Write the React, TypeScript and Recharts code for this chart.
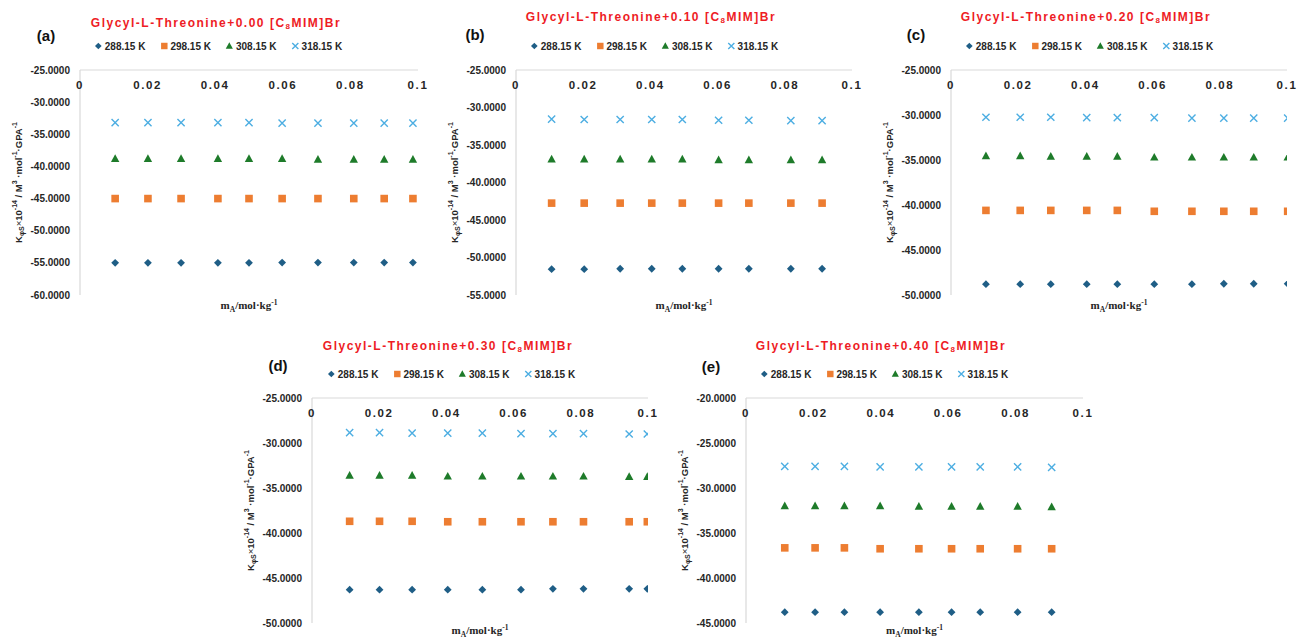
import React from 'react';
import { ScatterChart, Scatter, XAxis, YAxis } from 'recharts';

// ---------- data ----------
const temps = ['288.15 K', '298.15 K', '308.15 K', '318.15 K'];
const colors = ['#1F5E86', '#ED7D31', '#1E7B2A', '#4DAEE2'];
const shapes = ['diamond', 'square', 'triangle', 'x'];
const ilConcs = ['0.00', '0.10', '0.20', '0.30', '0.40'];
const panelLetters = ['(a)', '(b)', '(c)', '(d)', '(e)'];
const xTicks = [0, 0.02, 0.04, 0.06, 0.08, 0.1];
const xTickLabels = ['0', '0.02', '0.04', '0.06', '0.08', '0.1'];

// (a) 0.00
const xA = [0.0104, 0.0201, 0.0299, 0.0408, 0.05, 0.0598, 0.0704, 0.081, 0.09, 0.0985];
const a288 = [-55.0, -55.0, -55.0, -55.0, -55.0, -54.95, -54.95, -54.95, -54.95, -54.95];
const a298 = [-45.0, -45.0, -45.0, -45.0, -45.0, -45.0, -45.0, -45.0, -45.0, -45.0];
const a308 = [-38.8, -38.8, -38.8, -38.8, -38.8, -38.8, -38.9, -38.9, -38.9, -38.9];
const a318 = [-33.2, -33.2, -33.2, -33.2, -33.2, -33.25, -33.25, -33.25, -33.25, -33.25];
const yTicksA = [-60, -55, -50, -45, -40, -35, -30, -25];

// (b) 0.10
const xB = [0.0106, 0.0203, 0.031, 0.0404, 0.0495, 0.0603, 0.0693, 0.0818, 0.0911];
const b288 = [-51.55, -51.55, -51.5, -51.5, -51.5, -51.5, -51.5, -51.5, -51.5];
const b298 = [-42.75, -42.75, -42.75, -42.75, -42.75, -42.75, -42.75, -42.75, -42.75];
const b308 = [-36.9, -36.9, -36.9, -36.9, -36.9, -37.0, -37.0, -37.0, -37.0];
const b318 = [-31.55, -31.6, -31.6, -31.6, -31.6, -31.7, -31.7, -31.75, -31.75];
const yTicksB = [-55, -50, -45, -40, -35, -30, -25];

// (c) 0.20
const xC = [0.0104, 0.0206, 0.0297, 0.0404, 0.0495, 0.0605, 0.0717, 0.0812, 0.0901, 0.1002];
const c288 = [-48.8, -48.8, -48.8, -48.8, -48.8, -48.8, -48.8, -48.75, -48.75, -48.75];
const c298 = [-40.6, -40.6, -40.6, -40.6, -40.6, -40.7, -40.7, -40.7, -40.7, -40.7];
const c308 = [-34.55, -34.55, -34.6, -34.6, -34.6, -34.7, -34.7, -34.7, -34.7, -34.7];
const c318 = [-30.25, -30.25, -30.25, -30.3, -30.3, -30.3, -30.35, -30.35, -30.35, -30.35];
const yTicksC = [-50, -45, -40, -35, -30, -25];

// (d) 0.30
const xD = [0.0112, 0.0201, 0.0298, 0.0404, 0.0507, 0.0622, 0.0717, 0.0808, 0.0944, 0.0998];
const d288 = [-46.3, -46.3, -46.3, -46.3, -46.3, -46.3, -46.2, -46.2, -46.2, -46.2];
const d298 = [-38.7, -38.7, -38.7, -38.75, -38.75, -38.75, -38.75, -38.75, -38.75, -38.75];
const d308 = [-33.6, -33.6, -33.6, -33.7, -33.7, -33.7, -33.7, -33.7, -33.75, -33.75];
const d318 = [-28.85, -28.85, -28.9, -28.9, -28.9, -28.95, -28.95, -28.95, -29.0, -29.0];
const yTicksD = [-50, -45, -40, -35, -30, -25];

// (e) 0.40
const xE = [0.0115, 0.0205, 0.0292, 0.0398, 0.0513, 0.061, 0.0695, 0.0806, 0.0907];
const e288 = [-43.8, -43.8, -43.8, -43.8, -43.8, -43.8, -43.8, -43.8, -43.8];
const e298 = [-36.65, -36.65, -36.65, -36.75, -36.75, -36.75, -36.75, -36.75, -36.75];
const e308 = [-32.0, -32.0, -32.0, -32.0, -32.05, -32.05, -32.05, -32.05, -32.1];
const e318 = [-27.6, -27.6, -27.6, -27.65, -27.65, -27.65, -27.65, -27.65, -27.7];
const yTicksE = [-45, -40, -35, -30, -25, -20];

const panelX = [xA, xB, xC, xD, xE];
const panelY = [
  [a288, a298, a308, a318],
  [b288, b298, b308, b318],
  [c288, c298, c308, c318],
  [d288, d298, d308, d318],
  [e288, e298, e308, e318],
];
const panelYTicks = [yTicksA, yTicksB, yTicksC, yTicksD, yTicksE];

// ---------- layout ----------
const layouts = [
  { plotLeft: 80, plotTop: 70, plotW: 338, titleX: 216, titleY: 23, letterX: 46, letterY: 35, legendX: 218, legendY: 46, xLabDy: 14 },
  { plotLeft: 516, plotTop: 70, plotW: 336, titleX: 651, titleY: 17, letterX: 475, letterY: 34, legendX: 654, legendY: 46, xLabDy: 14 },
  { plotLeft: 951, plotTop: 70, plotW: 336, titleX: 1086, titleY: 17, letterX: 916, letterY: 34, legendX: 1089, legendY: 46, xLabDy: 14 },
  { plotLeft: 312, plotTop: 398, plotW: 336, titleX: 448, titleY: 346, letterX: 278, letterY: 365, legendX: 451, legendY: 374, xLabDy: 11 },
  { plotLeft: 746, plotTop: 398, plotW: 337, titleX: 881, titleY: 346, letterX: 711, letterY: 366, legendX: 884, legendY: 374, xLabDy: 11 },
];
const PLOT_H = 225;
const PLOT_TOP = 70; // plot top inside each chart svg
const X_H = 20;
const M_TOP = PLOT_TOP - X_H;
const M_LEFT = 20;
const M_RIGHT = 20;
const Y_W = 60;
const AXIS_GRAY = '#D9D9D9';
const TEXT = '#262626';

const Marker = ({ kind, cx, cy, color, s = 1 }: any) => {
  if (cx == null || cy == null) return null;
  if (kind === 'diamond') {
    const r = 3.9 * s;
    return <path d={`M${cx},${cy - r}L${cx + r},${cy}L${cx},${cy + r}L${cx - r},${cy}Z`} fill={color} />;
  }
  if (kind === 'square') {
    const h = 3.8 * s;
    return <rect x={cx - h} y={cy - h} width={2 * h} height={2 * h} fill={color} />;
  }
  if (kind === 'triangle') {
    return (
      <path
        d={`M${cx},${cy - 4.4 * s}L${cx + 4.2 * s},${cy + 3.3 * s}L${cx - 4.2 * s},${cy + 3.3 * s}Z`}
        fill={color}
      />
    );
  }
  const r = 3.6 * s;
  return (
    <path
      d={`M${cx - r},${cy - r}L${cx + r},${cy + r}M${cx - r},${cy + r}L${cx + r},${cy - r}`}
      stroke={color}
      strokeWidth={1.4}
      fill="none"
    />
  );
};

const XTick = (props: any) => {
  const { x, payload } = props;
  const i = xTicks.indexOf(payload.value);
  return (
    <text
      x={x}
      y={PLOT_TOP + 19}
      textAnchor="middle"
      fontSize={11.5}
      fontWeight={700}
      letterSpacing={1.6}
      fill={TEXT}
      fontFamily="'Liberation Sans', Arial, sans-serif"
    >
      {i >= 0 ? xTickLabels[i] : String(payload.value)}
    </text>
  );
};

const YLabel = ({ viewBox }: any) => {
  const cx = viewBox.x - 2;
  const cy = PLOT_TOP + PLOT_H / 2;
  return (
    <text
      transform={`translate(${cx},${cy}) rotate(-90)`}
      textAnchor="middle"
      dominantBaseline="central"
      fontSize={9.5}
      fontWeight={700}
      fill={TEXT}
      fontFamily="'Liberation Sans', Arial, sans-serif"
    >
      K
      <tspan dy={2.5} fontSize={7}>φS</tspan>
      <tspan dy={-2.5} fontWeight={400}>×</tspan>
      <tspan>10</tspan>
      <tspan dy={-4} fontSize={7}>-14</tspan>
      <tspan dy={4}> / M</tspan>
      <tspan dy={-4} fontSize={7}>3</tspan>
      <tspan dy={4}> ·mol</tspan>
      <tspan dy={-4} fontSize={7}>-1</tspan>
      <tspan dy={4}>·GPA</tspan>
      <tspan dy={-4} fontSize={7}>-1</tspan>
    </text>
  );
};

const makeXLabel = (plotW: number, dy: number) => () => {
  const cx = M_LEFT + Y_W + plotW / 2;
  return (
    <text
      x={cx}
      y={PLOT_TOP + PLOT_H + dy}
      textAnchor="middle"
      fontSize={11}
      fontWeight={700}
      fill={TEXT}
      fontFamily="'Liberation Serif', 'Times New Roman', serif"
    >
      m
      <tspan dy={2.5} fontSize={7.5}>A</tspan>
      <tspan dy={-2.5}>/mol·kg</tspan>
      <tspan dy={-4} fontSize={7.5}>-1</tspan>
    </text>
  );
};

const Legend = ({ x, y }: any) => (
  <div
    style={{
      position: 'absolute',
      left: x,
      top: y,
      transform: 'translate(-50%, -50%)',
      display: 'flex',
      alignItems: 'center',
      whiteSpace: 'nowrap',
      fontFamily: "'Liberation Sans', Arial, sans-serif",
      fontWeight: 700,
      fontSize: 10,
      color: TEXT,
    }}
  >
    {temps.map((t, i) => (
      <div key={t} style={{ display: 'flex', alignItems: 'center', marginLeft: i === 0 ? 0 : 14 }}>
        <svg width={9} height={9} style={{ marginRight: 2 }}>
          <Marker kind={shapes[i]} cx={4.5} cy={4.5} color={colors[i]} s={0.85} />
        </svg>
        <span>{t}</span>
      </div>
    ))}
  </div>
);

const Panel = ({ idx }: { idx: number }) => {
  const L = layouts[idx];
  const ticks = panelYTicks[idx];
  const lo = ticks[0];
  const hi = ticks[ticks.length - 1];
  const chartLeft = L.plotLeft - M_LEFT - Y_W;
  const chartTop = L.plotTop - PLOT_TOP;
  const width = M_LEFT + Y_W + L.plotW + M_RIGHT;
  const height = PLOT_TOP + PLOT_H + 20;
  const xs = panelX[idx];
  return (
    <>
      <div
        style={{
          position: 'absolute',
          left: L.titleX,
          top: L.titleY,
          transform: 'translate(-50%, -50%)',
          whiteSpace: 'nowrap',
          color: '#EE1C25',
          fontWeight: 700,
          fontSize: 12,
          letterSpacing: 1.5,
          fontFamily: "'Liberation Sans', Arial, sans-serif",
          lineHeight: '14px',
        }}
      >
        Glycyl-L-Threonine+{ilConcs[idx]} [C
        <sub style={{ fontSize: 8, verticalAlign: -2, lineHeight: 0 }}>8</sub>
        MIM]Br
      </div>
      <div
        style={{
          position: 'absolute',
          left: L.letterX,
          top: L.letterY,
          transform: 'translate(-50%, -50%)',
          fontWeight: 700,
          fontSize: 15,
          color: '#111',
          fontFamily: "'Liberation Sans', Arial, sans-serif",
        }}
      >
        {panelLetters[idx]}
      </div>
      <Legend x={L.legendX} y={L.legendY} />
      <div style={{ position: 'absolute', left: chartLeft, top: chartTop }}>
        <ScatterChart
          width={width}
          height={height}
          margin={{ top: M_TOP, left: M_LEFT, right: M_RIGHT, bottom: 20 }}
        >
          <XAxis
            type="number"
            dataKey="x"
            orientation="top"
            height={X_H}
            domain={[0, 0.1]}
            ticks={xTicks}
            tick={<XTick />}
            tickLine={false}
            axisLine={{ stroke: AXIS_GRAY, strokeWidth: 1.2 }}
            interval={0}
            allowDataOverflow
            label={{ content: makeXLabel(L.plotW, L.xLabDy) as any }}
          />
          <YAxis
            type="number"
            dataKey="y"
            width={Y_W}
            domain={[lo, hi]}
            ticks={ticks}
            interval={0}
            tickLine={false}
            tickSize={0}
            tickMargin={10}
            tickFormatter={(v: number) => v.toFixed(4)}
            tick={{ fontSize: 10, fontWeight: 700, fill: TEXT, fontFamily: "'Liberation Sans', Arial, sans-serif" }}
            axisLine={{ stroke: AXIS_GRAY, strokeWidth: 1.2 }}
            label={{ content: YLabel as any }}
          />
          {temps.map((t, si) => (
            <Scatter
              key={t}
              name={t}
              data={xs.map((xv, k) => ({ x: xv, y: panelY[idx][si][k] }))}
              isAnimationActive={false}
              shape={(p: any) => <Marker kind={shapes[si]} cx={p.cx} cy={p.cy} color={colors[si]} />}
            />
          ))}
        </ScatterChart>
      </div>
    </>
  );
}

export default function App() {
  return (
    <div
      style={{
        position: 'absolute',
        left: 0,
        top: 0,
        width: 1299,
        height: 639,
        overflow: 'hidden',
        background: '#fff',
      }}
    >
      {[0, 1, 2, 3, 4].map((i) => (
        <Panel key={i} idx={i} />
      ))}
    </div>
  );
}
